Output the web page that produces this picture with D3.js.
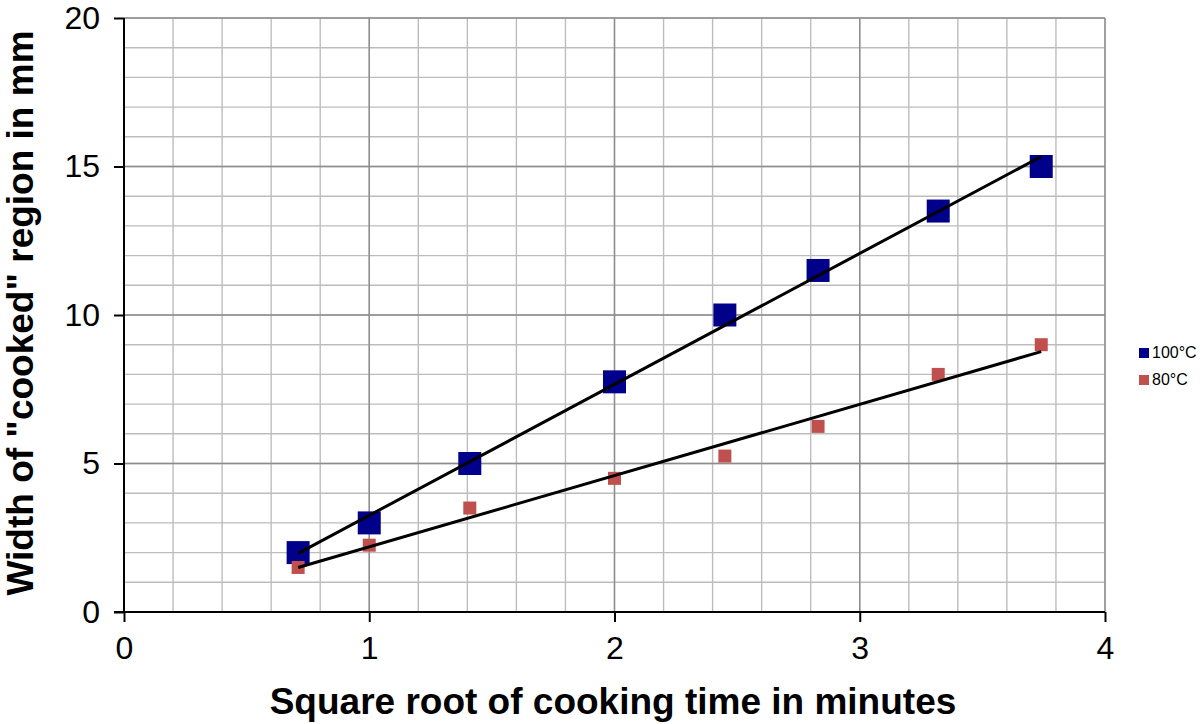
<!DOCTYPE html>
<html>
<head>
<meta charset="utf-8">
<script src="https://cdn.jsdelivr.net/npm/d3@7"></script>
<style>
    body { margin: 0; background: #fff; }
    svg { display: block; }
    text { font-family: "Liberation Sans", Arial, Helvetica, sans-serif; fill: #000; }
    .tick-label { font-size: 32px; }
    .axis-title { font-size: 37px; font-weight: bold; }
    .legend-label { font-size: 16px; }
</style>
</head>
<body>
<svg id="chart" width="1200" height="724"></svg>
<script>
// square root of cooking time (minutes)
var sqrtTimes = [0.71, 1, 1.41, 2, 2.45, 2.83, 3.32, 3.74];
// width of cooked region (mm)
var width100 = [2, 3, 5, 7.75, 10, 11.5, 13.5, 15];
var width80 = [1.5, 2.25, 3.5, 4.5, 5.25, 6.25, 8, 9];
var seriesNames = ["100°C", "80°C"];
var xTicks = [0, 1, 2, 3, 4];
var yTicks = [0, 5, 10, 15, 20];

var svg = d3.select("#chart");

var plotLeft = 124, plotRight = 1105, plotTop = 18, plotBottom = 612;

var xScale = d3.scaleLinear().domain([0, 4]).range([plotLeft, plotRight]);
var yScale = d3.scaleLinear().domain([0, 20]).range([plotBottom, plotTop]);

// least squares fit, drawn like the spreadsheet trendline
function fitLine(xs, ys) {
    var mx = d3.mean(xs), my = d3.mean(ys);
    var sxy = 0, sxx = 0;
    xs.forEach(function (x, i) {
        sxy += (x - mx) * (ys[i] - my);
        sxx += (x - mx) * (x - mx);
    });
    var slope = sxy / sxx;
    return { slope: slope, intercept: my - slope * mx };
}

// grid, minor first then major on top
var grid = svg.append("g");
var minorX = d3.range(0, 4.001, 0.2), minorY = d3.range(0, 20.001, 1);

grid.selectAll(".vminor").data(minorX).enter()
    .append("line")
    .attr("x1", function (d) { return xScale(d); })
    .attr("x2", function (d) { return xScale(d); })
    .attr("y1", yScale(0)).attr("y2", yScale(20))
    .attr("stroke", "#bdbdbd").attr("stroke-width", 1.4);

grid.selectAll(".hminor").data(minorY).enter()
    .append("line")
    .attr("y1", function (d) { return yScale(d); })
    .attr("y2", function (d) { return yScale(d); })
    .attr("x1", xScale(0)).attr("x2", xScale(4))
    .attr("stroke", "#bdbdbd").attr("stroke-width", 1.4);

grid.selectAll(".vmajor").data(xTicks.slice(1)).enter()
    .append("line")
    .attr("x1", function (d) { return xScale(d); })
    .attr("x2", function (d) { return xScale(d); })
    .attr("y1", yScale(0)).attr("y2", yScale(20))
    .attr("stroke", "#8c8c8c").attr("stroke-width", 1.4);

grid.selectAll(".hmajor").data(yTicks.slice(1)).enter()
    .append("line")
    .attr("y1", function (d) { return yScale(d); })
    .attr("y2", function (d) { return yScale(d); })
    .attr("x1", xScale(0)).attr("x2", xScale(4))
    .attr("stroke", "#8c8c8c").attr("stroke-width", 1.4);

// axes
var xAxis = d3.axisBottom(xScale).tickValues(xTicks).tickFormat(d3.format("d")).tickSize(10);
var yAxis = d3.axisLeft(yScale).tickValues(yTicks).tickFormat(d3.format("d")).tickSize(10).tickPadding(14);

var gx = svg.append("g")
    .attr("transform", "translate(0," + plotBottom + ")")
    .call(xAxis);
var gy = svg.append("g")
    .attr("transform", "translate(" + plotLeft + ",0)")
    .call(yAxis);

[gx, gy].forEach(function (g) {
    g.attr("font-size", null).attr("font-family", null);
    g.select(".domain").attr("stroke", "#000").attr("stroke-width", 2);
    g.selectAll(".tick line").attr("stroke", "#000").attr("stroke-width", 2);
    g.selectAll(".tick text").attr("class", "tick-label");
});
gx.select(".domain").attr("d", "M" + (plotLeft - 10) + ",0H" + plotRight);
gy.select(".domain").attr("d", "M0," + plotBottom + "V" + plotTop);
gx.selectAll(".tick text").attr("dy", null).attr("y", 47);

// markers
var series = [
    { name: seriesNames[0], values: width100, color: "#00008b", size: 23 },
    { name: seriesNames[1], values: width80, color: "#c0504d", size: 13 }
];

series.forEach(function (s) {
    svg.append("g").selectAll("rect")
        .data(s.values).enter()
        .append("rect")
        .attr("x", function (d, i) { return xScale(sqrtTimes[i]) - s.size / 2; })
        .attr("y", function (d) { return yScale(d) - s.size / 2; })
        .attr("width", s.size)
        .attr("height", s.size)
        .attr("fill", s.color);
});

// trend lines
series.forEach(function (s) {
    var fit = fitLine(sqrtTimes, s.values);
    var x0 = d3.min(sqrtTimes), x1 = d3.max(sqrtTimes);
    svg.append("line")
        .attr("x1", xScale(x0)).attr("y1", yScale(fit.intercept + fit.slope * x0))
        .attr("x2", xScale(x1)).attr("y2", yScale(fit.intercept + fit.slope * x1))
        .attr("stroke", "#000").attr("stroke-width", 3);
});

// axis titles
svg.append("text")
    .attr("class", "axis-title")
    .attr("x", 613).attr("y", 714)
    .attr("text-anchor", "middle")
    .text("Square root of cooking time in minutes");

svg.append("text")
    .attr("class", "axis-title")
    .attr("transform", "translate(33,313) rotate(-90)")
    .attr("text-anchor", "middle")
    .text("Width of \"cooked\" region in mm");

// legend
var legend = svg.append("g").attr("transform", "translate(1139,348)");
var items = legend.selectAll("g").data(series).enter()
    .append("g")
    .attr("transform", function (d, i) { return "translate(0," + (i * 27) + ")"; });
items.append("rect")
    .attr("width", 10).attr("height", 10)
    .attr("fill", function (d) { return d.color; });
items.append("text")
    .attr("class", "legend-label")
    .attr("x", 13).attr("y", 10)
    .text(function (d) { return d.name; });
</script>
</body>
</html>
